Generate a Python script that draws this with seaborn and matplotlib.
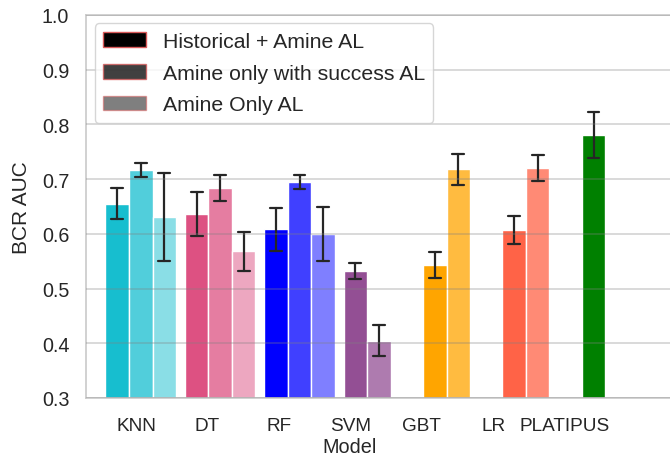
import numpy as np
import pandas as pd
import matplotlib
matplotlib.use("Agg")
import matplotlib.pyplot as plt
import seaborn as sns
from matplotlib.colors import to_rgba
from matplotlib.patches import Patch

# data (mean BCR AUC and half-width of error bar)
models = ["KNN", "DT", "RF", "SVM", "GBT", "LR", "PLATIPUS"]
conditions = ["Historical + Amine AL", "Amine only with success AL", "Amine Only AL"]

hist_mean = [0.655, 0.636, 0.608, 0.532, 0.543, 0.607, 0.781]
hist_err = [0.028, 0.040, 0.040, 0.014, 0.024, 0.026, 0.042]
succ_mean = [0.717, 0.684, 0.695, 0.405, 0.718, 0.720, np.nan]
succ_err = [0.013, 0.024, 0.013, 0.028, 0.028, 0.024, np.nan]
only_mean = [0.631, 0.568, 0.600, np.nan, np.nan, np.nan, np.nan]
only_err = [0.080, 0.036, 0.049, np.nan, np.nan, np.nan, np.nan]

model_colors = ["#17becf", "#dd5182", "#0000ff", "#934f94", "#ffa500", "#ff6347", "#008000"]
alphas = [1.0, 0.75, 0.5]

# long form: low / high end of each error bar, seaborn takes the mean
rows = []
for cond, means, errs in zip(conditions, [hist_mean, succ_mean, only_mean],
                             [hist_err, succ_err, only_err]):
    for m, v, e in zip(models, means, errs):
        if np.isnan(v):
            continue
        rows.append({"Model": m, "cond": cond, "BCR AUC": v - e})
        rows.append({"Model": m, "cond": cond, "BCR AUC": v + e})
df = pd.DataFrame(rows)

sns.set_theme(style="whitegrid")
plt.rcParams["font.family"] = ["Liberation Sans", "DejaVu Sans"]

fig = plt.figure(figsize=(6.7, 4.56), dpi=100)
ax = fig.add_axes([0.1284, 0.125, 0.879, 0.84])

sns.barplot(data=df, x="Model", y="BCR AUC", hue="cond", order=models,
            hue_order=conditions, width=0.89, ax=ax,
            errorbar=lambda v: (v.min(), v.max()), capsize=0.45,
            err_kws={"color": ".15", "linewidth": 1.6}, legend=False)

# colour every bar by model, lighter for each condition
for h, cont in enumerate(ax.containers):
    for bar in cont:
        i = int(round(bar.get_x() + bar.get_width() / 2))
        bar.set_facecolor(to_rgba(model_colors[i], alphas[h]))
        bar.set_edgecolor("white")

ax.set_ylim(0.3, 1.0)
ax.set_xlim(-0.689, 6.729)
ax.set_xticks(np.arange(len(models)) * 0.9 - 0.06)
ax.set_xticklabels(models)
ax.tick_params(axis="x", labelsize=13.7, pad=8)
ax.tick_params(axis="y", labelsize=14.2, pad=6)
ax.set_xlabel("Model", fontsize=14.3)
ax.xaxis.set_label_coords(0.448, -0.102)
ax.set_ylabel("BCR AUC", fontsize=15, labelpad=8)

ax.set_axisbelow(False)
ax.grid(axis="y", color=(0.5, 0.5, 0.5), alpha=0.35, linewidth=1.2)
ax.grid(axis="x", visible=False)
for s in ["left", "bottom", "top"]:
    ax.spines[s].set_color(".8")

handles = [Patch(facecolor="black", alpha=a, edgecolor=(0.85, 0.35, 0.35), label=c)
           for a, c in zip(alphas, conditions)]
ax.legend(handles=handles, loc="upper left", fontsize=15.3, labelspacing=0.6,
          handlelength=2.0, bbox_to_anchor=(0.0, 1.0), borderaxespad=0.4)

fig.savefig("out.png", dpi=100)
